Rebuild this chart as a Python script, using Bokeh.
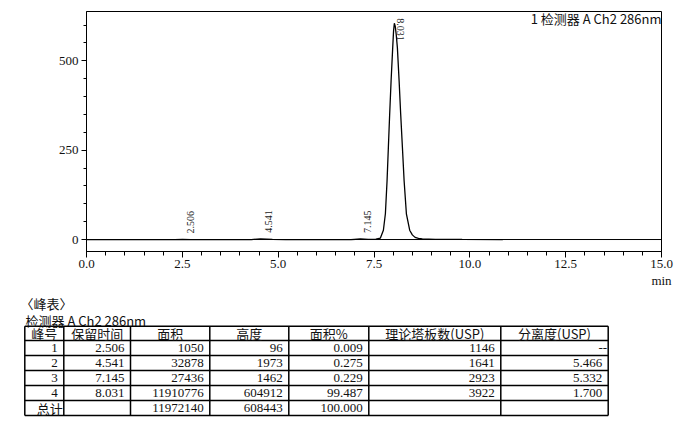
import math
from bokeh.plotting import figure
from bokeh.layouts import column
from bokeh.models import Range1d, FixedTicker, PrintfTickFormatter, Span, Label
from bokeh.core.properties import value
from bokeh.embed import file_html
from bokeh.resources import INLINE

# ---------------- data ----------------
# chromatogram trace (time in min, signal in mV)
trace_time = [0.00, 2.30, 2.506, 2.72, 4.30, 4.541, 4.85, 5.20, 6.90, 7.145, 7.35,
              7.55, 7.667, 7.745, 7.797, 7.841, 7.875, 7.909, 7.946, 7.988, 8.010,
              8.031, 8.055, 8.080, 8.110, 8.155, 8.196, 8.241, 8.285, 8.345, 8.431,
              8.50, 8.572, 8.66, 8.76, 9.10, 9.80, 10.86]
trace_signal = [0.0, 0.0, 0.1, 0.0, 0.0, 2.0, 0.3, 0.0, 0.0, 1.5, 0.6,
                1.0, 4.0, 26.0, 72.0, 165.0, 258.0, 351.0, 444.0, 537.0, 583.0,
                605.0, 596.0, 573.0, 537.0, 444.0, 351.0, 258.0, 165.0, 72.0, 26.0,
                13.0, 6.0, 3.0, 1.5, 0.6, 0.2, 0.0]

peak_no = [1, 2, 3, 4]
ret_time = [2.506, 4.541, 7.145, 8.031]
area = [1050, 32878, 27436, 11910776]
height = [96, 1973, 1462, 604912]          # uV
area_pct = [0.009, 0.275, 0.229, 99.487]
plates_usp = [1146, 1641, 2923, 3922]
resolution_usp = [None, 5.466, 5.332, 1.700]
total_area = 11972140
total_height = 608443
total_pct = 100.000

x_ticks = [0.0, 2.5, 5.0, 7.5, 10.0, 12.5, 15.0]
y_ticks = [0, 250, 500]
headers = ["峰号", "保留时间", "面积", "高度", "面积%", "理论塔板数(USP)", "分离度(USP)"]
chart_title = "1 检测器 A Ch2 286nm"
table_title = "〈峰表〉"
table_subtitle = "检测器 A Ch2 286nm"
x_unit = "min"

SERIF = value("Liberation Serif")
CJK = value("Noto Sans CJK SC")

# ---------------- chromatogram ----------------
p = figure(width=684, height=290, x_range=Range1d(0, 15), y_range=Range1d(-33.5, 638),
           output_backend="svg", toolbar_location=None,
           min_border_left=86, min_border_right=23, min_border_top=11, min_border_bottom=38)
p.grid.visible = False
p.outline_line_color = "black"
p.outline_line_width = 1
p.background_fill_color = "white"
p.border_fill_color = "white"

xa = p.xaxis[0]
xa.ticker = FixedTicker(ticks=x_ticks, minor_ticks=[i * 0.5 for i in range(31)])
xa.formatter = PrintfTickFormatter(format="%.1f")
xa.major_tick_in = 0
xa.major_tick_out = 6
xa.minor_tick_in = 0
xa.minor_tick_out = 4
xa.major_label_standoff = 2

ya = p.yaxis[0]
ya.ticker = FixedTicker(ticks=y_ticks, minor_ticks=list(range(0, 601, 50)))
ya.major_tick_in = 0
ya.major_tick_out = 5
ya.minor_tick_in = 0
ya.minor_tick_out = 3
ya.major_label_standoff = 3

for ax in (xa, ya):
    ax.axis_line_color = "black"
    ax.axis_line_width = 1
    ax.major_tick_line_color = "black"
    ax.minor_tick_line_color = "black"
    ax.major_label_text_font = "Liberation Serif"
    ax.major_label_text_font_size = "13px"
    ax.major_label_text_color = "#111111"

# unit label "min" under the right end of the time axis
xa.axis_label = x_unit
xa.axis_label_text_font = "Liberation Serif"
xa.axis_label_text_font_size = "13px"
xa.axis_label_text_font_style = "normal"
xa.axis_label_text_color = "#111111"
xa.axis_label_standoff = 2
xa.axis_label_align = "end"
xa.axis_label_text_align = "right"

p.add_layout(Span(location=0, dimension="width", line_color="black", line_width=1))
p.line(trace_time, trace_signal, line_color="black", line_width=1.3)

# peak labels
small = [i for i in range(len(ret_time)) if height[i] / 1000 < 400]
big = [i for i in range(len(ret_time)) if height[i] / 1000 >= 400]
p.text(x=[ret_time[i] for i in small], y=[height[i] / 1000 for i in small],
       text=["%.3f" % ret_time[i] for i in small], angle=math.pi / 2,
       text_align="left", text_baseline="top", x_offset=4, y_offset=-6,
       text_font=SERIF, text_font_size="10px", text_color="#222222")
p.text(x=[ret_time[i] for i in big], y=[height[i] / 1000 for i in big],
       text=["%.3f" % ret_time[i] for i in big], angle=-math.pi / 2,
       text_align="left", text_baseline="bottom", x_offset=3, y_offset=-5,
       text_font=SERIF, text_font_size="10px", text_color="#222222")

p.add_layout(Label(x=15, y=619, text=chart_title, text_align="right", text_baseline="middle",
                   text_font="Noto Sans CJK SC", text_font_size="13px", text_color="#111111"))

# ---------------- peak table (coordinates in page pixels) ----------------
t = figure(width=684, height=134, x_range=Range1d(0, 684), y_range=Range1d(424, 290),
           output_backend="svg", toolbar_location=None, x_axis_type=None, y_axis_type=None,
           min_border=0)
t.outline_line_color = None
t.grid.visible = False
t.background_fill_color = "white"
t.border_fill_color = "white"

for fig in (p, t):
    try:
        fig.frame_align = False
    except Exception:
        pass

col_edges = [24.3, 63.3, 130, 209.3, 288.3, 368.3, 500.3, 607.7]
row_edges = [325.7, 340, 355, 370, 385, 400, 415]

t.segment(x0=[col_edges[0]] * len(row_edges), y0=row_edges,
          x1=[col_edges[-1]] * len(row_edges), y1=row_edges,
          line_color="black", line_width=1.5)
t.segment(x0=col_edges, y0=[row_edges[0]] * len(col_edges),
          x1=col_edges, y1=[row_edges[-1]] * len(col_edges),
          line_color="black", line_width=1.5)

t.text(x=[20], y=[302.5], text=[table_title], text_align="left", text_baseline="middle",
       text_font=CJK, text_font_size="13px", text_color="#111111")
t.text(x=[25], y=[319.5], text=[table_subtitle], text_align="left", text_baseline="middle",
       text_font=CJK, text_font_size="13px", text_color="#111111")

hx = [(col_edges[i] + col_edges[i + 1]) / 2 for i in range(len(headers))]
hy = (row_edges[0] + row_edges[1]) / 2
t.text(x=hx, y=[hy] * len(headers), text=headers, text_align="center", text_baseline="middle",
       text_font=CJK, text_font_size="13px", text_color="#111111")

rows = []
for i in range(len(peak_no)):
    rows.append([str(peak_no[i]), "%.3f" % ret_time[i], str(area[i]), str(height[i]),
                 "%.3f" % area_pct[i], str(plates_usp[i]),
                 "--" if resolution_usp[i] is None else "%.3f" % resolution_usp[i]])
rows.append(["", "", str(total_area), str(total_height), "%.3f" % total_pct, "", ""])

nx, ny, ntext = [], [], []
for r, row in enumerate(rows):
    yc = (row_edges[r + 1] + row_edges[r + 2]) / 2
    for c, s in enumerate(row):
        if s:
            nx.append(col_edges[c + 1] - (1 if s == "--" else 6))
            ny.append(yc)
            ntext.append(s)
t.text(x=nx, y=ny, text=ntext, text_align="right", text_baseline="middle",
       text_font=SERIF, text_font_size="13px", text_color="#111111")
t.text(x=[col_edges[1] - 1], y=[(row_edges[5] + row_edges[6]) / 2], text=["总计"],
       text_align="right", text_baseline="middle",
       text_font=CJK, text_font_size="13px", text_color="#111111")

layout = column(p, t, spacing=0)
open("out.html", "w").write(file_html(layout, INLINE))
